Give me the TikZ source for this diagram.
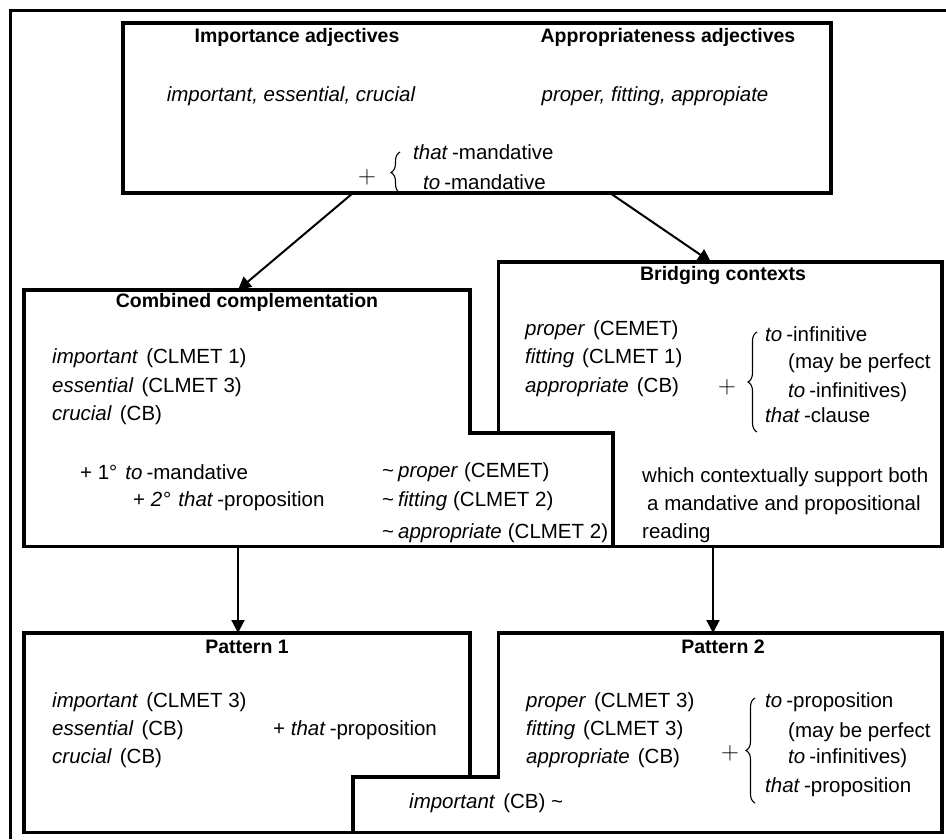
\documentclass[tikz,border=0pt]{standalone}
\usepackage{fontspec}
\setmainfont{Liberation Sans}
\usetikzlibrary{arrows.meta,decorations.pathreplacing}
\tikzset{
  frame/.style={line width=3.2pt},
  box/.style={line width=3.2pt, fill=white, line join=miter},
  arr/.style={line width=2pt, -{Triangle[width=13pt,length=13pt]}},
  lbl/.style={anchor=west, inner sep=0pt, font=\fontsize{20.5}{24}\selectfont},
  ttl/.style={inner sep=0pt, font=\fontsize{19.5}{23}\selectfont\bfseries},
  pls/.style={inner sep=0pt, font=\fontsize{24}{26}\selectfont},
  brc/.style={decorate, decoration={brace, amplitude=9pt}, line width=1.1pt},
}
\newcommand\wgap{\hspace{8pt}}
\newcommand\hgap{\hspace{4pt}}
\newcommand\tl{\textasciitilde\hspace{4pt}}
\begin{document}
\begin{tikzpicture}[x=1pt,y=-1pt]
\useasboundingbox (0,0) rectangle (946,839);
% cell border (top and left edges only)
\draw[frame] (10.7,839) -- (10.7,10.7) -- (946,10.7);

% source box
\draw[box] (123,23) rectangle (831,193);
% bridging contexts, partly covered by the combined box
\draw[box] (498.5,262) rectangle (942,546.5);
\draw[box] (24,290) -- (470,290) -- (470,433) -- (613,433) -- (613,546.5) -- (24,546.5) -- cycle;
% pattern 1, partly covered by pattern 2
\draw[box] (24,633) rectangle (470,832.5);
\draw[box] (498.5,633) -- (942,633) -- (942,832.5) -- (353,832.5) -- (353,777) -- (498.5,777) -- cycle;

% connector ends
\coordinate (srcL) at (353,193);
\coordinate (srcR) at (610,193);
\coordinate (combTop) at (238,290);
\coordinate (bridTop) at (711,262);
\coordinate (combBot) at (238,546.5);
\coordinate (bridBot) at (713,546.5);
\coordinate (pat1Top) at (238,633);
\coordinate (pat2Top) at (713,633);
\draw[arr] (srcL) -- (combTop);
\draw[arr] (srcR) -- (bridTop);
\draw[arr] (combBot) -- (pat1Top);
\draw[arr] (bridBot) -- (pat2Top);

% source box texts
\node[ttl] (impT) at (297,37) {Importance adjectives};
\node[ttl] (appT) at (668,37) {Appropriateness adjectives};
\node[lbl,anchor=center] (impL) at (291,96) {\itshape important, essential, crucial};
\node[lbl,anchor=center] (appL) at (655,96) {\itshape proper, fitting, appropiate};
\node[pls] (srcPlus) at (367,177) {$+$};
\draw[brc] (400,193) -- (400,152);
\node[lbl] (srcA) at (413,152) {\textit{that}\hgap-mandative};
\node[lbl] (srcB) at (423,182) {\textit{to}\hgap-mandative};

% combined complementation
\node[ttl] (combT) at (247,302) {Combined complementation};
\node[lbl] (c1) at (52,358) {\textit{important}\wgap(CLMET 1)};
\node[lbl] (c2) at (52,387) {\textit{essential}\wgap(CLMET 3)};
\node[lbl] (c3) at (52,415) {\textit{crucial}\wgap(CB)};
\node[lbl] (c4) at (80,472) {+ 1°\hspace{8pt}\textit{to}\hgap-mandative};
\node[lbl] (c5) at (133,501) {+ \textit{2°}\hspace{8pt}\textit{that}\hgap-proposition};
\node[lbl] (c6) at (382,472) {\tl\textit{proper}\hspace{6pt}(CEMET)};
\node[lbl] (c7) at (382,501) {\tl\textit{fitting}\hspace{6pt}(CLMET 2)};
\node[lbl] (c8) at (382,533) {\tl\textit{appropriate}\hspace{6pt}(CLMET 2)};

% bridging contexts
\node[ttl] (bridT) at (723,275) {Bridging contexts};
\node[lbl] (b1) at (525,330) {\textit{proper}\wgap(CEMET)};
\node[lbl] (b2) at (525,358) {\textit{fitting}\wgap(CLMET 1)};
\node[lbl] (b3) at (525,387) {\textit{appropriate}\wgap(CB)};
\node[pls] (bridPlus) at (727,387) {$+$};
\draw[brc] (757,432) -- (757,332);
\node[lbl] (b4) at (765,334) {\textit{to}\hgap-infinitive};
\node[lbl] (b5) at (788,363) {(may be perfect};
\node[lbl] (b6) at (788,392) {\textit{to}\hgap-infinitives)};
\node[lbl] (b7) at (765,415) {\textit{that}\hgap-clause};
\node[lbl] (b8) at (642,477) {which contextually support both};
\node[lbl] (b9) at (647,505) {a mandative and propositional};
\node[lbl] (b10) at (642,533) {reading};

% pattern 1
\node[ttl] (p1T) at (247,647) {Pattern 1};
\node[lbl] (p11) at (52,702) {\textit{important}\wgap(CLMET 3)};
\node[lbl] (p12) at (52,730) {\textit{essential}\wgap(CB)};
\node[lbl] (p13) at (52,758) {\textit{crucial}\wgap(CB)};
\node[lbl] (p14) at (273,730) {+ \textit{that}\hgap-proposition};

% pattern 2
\node[ttl] (p2T) at (723,647) {Pattern 2};
\node[lbl] (p21) at (526,702) {\textit{proper}\wgap(CLMET 3)};
\node[lbl] (p22) at (526,730) {\textit{fitting}\wgap(CLMET 3)};
\node[lbl] (p23) at (526,758) {\textit{appropriate}\wgap(CB)};
\node[pls] (p2Plus) at (730,753) {$+$};
\draw[brc] (755,803) -- (755,698);
\node[lbl] (p24) at (765,702) {\textit{to}\hgap-proposition};
\node[lbl] (p25) at (788,732) {(may be perfect};
\node[lbl] (p26) at (788,758) {\textit{to}\hgap-infinitives)};
\node[lbl] (p27) at (765,787) {\textit{that}\hgap-proposition};
\node[lbl] (p28) at (409,803) {\textit{important}\wgap(CB) \textasciitilde};
\end{tikzpicture}
\end{document}
